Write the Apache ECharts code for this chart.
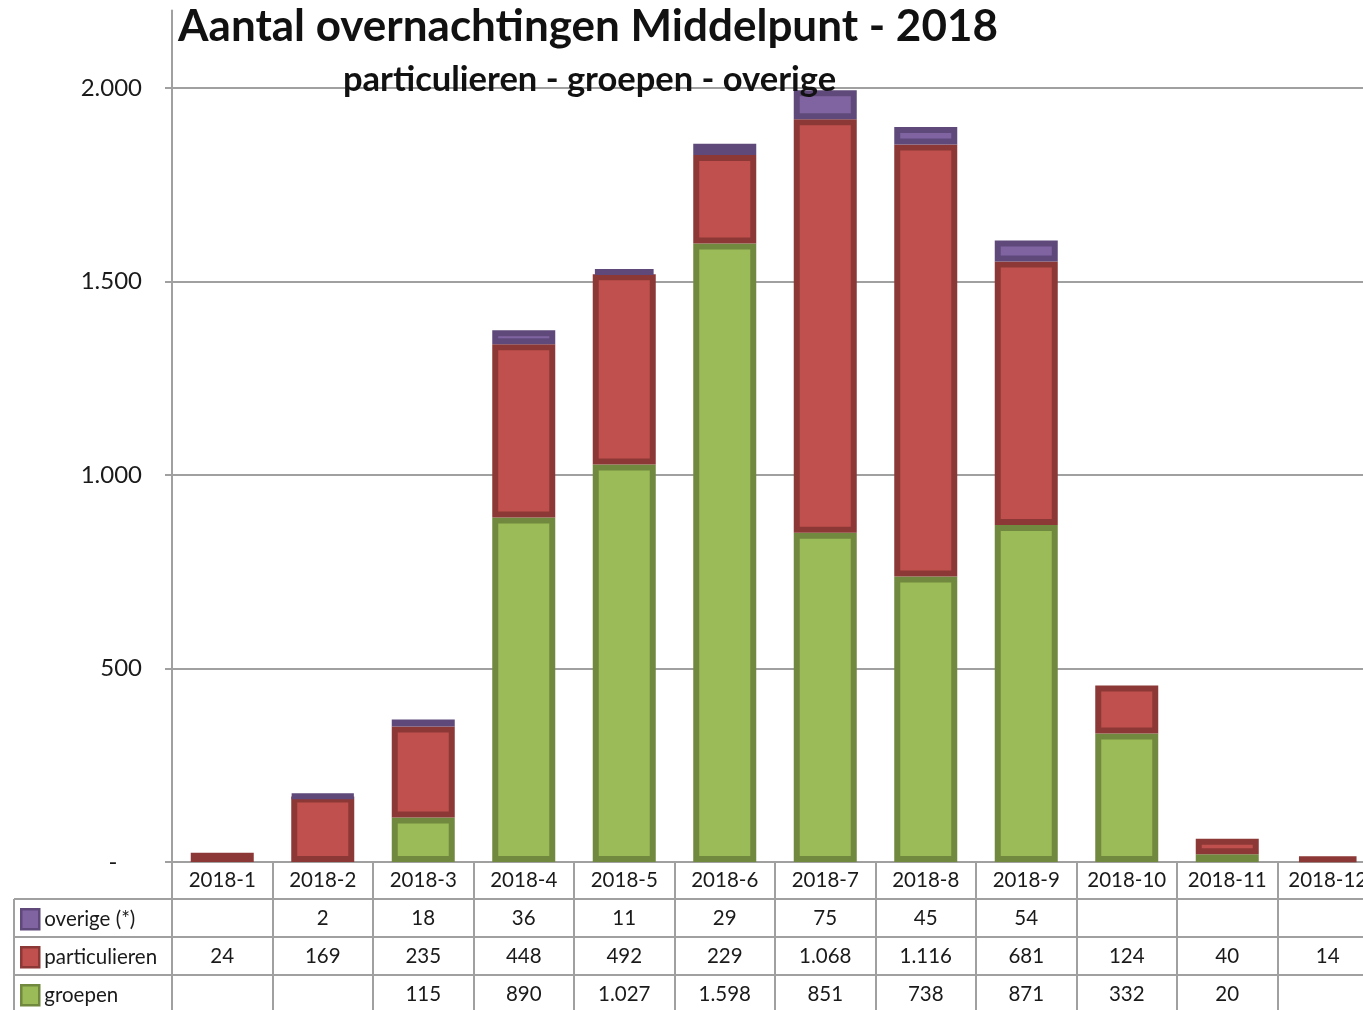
<!DOCTYPE html>
<html>
<head>
<meta charset="utf-8">
<script src="https://cdn.jsdelivr.net/npm/echarts@6/dist/echarts.min.js"></script>
<style>
  html, body { margin: 0; padding: 0; background: #fff; }
  #chart { width: 1363px; height: 1010px; }
</style>
</head>
<body>
<div id="chart"></div>
<script>
var months = ['2018-1', '2018-2', '2018-3', '2018-4', '2018-5', '2018-6', '2018-7', '2018-8', '2018-9', '2018-10', '2018-11', '2018-12']
var overige = [null, 2, 18, 36, 11, 29, 75, 45, 54, null, null, null]
var particulieren = [24, 169, 235, 448, 492, 229, 1068, 1116, 681, 124, 40, 14]
var groepen = [null, null, 115, 890, 1027, 1598, 851, 738, 871, 332, 20, null]
var yTicks = [0, 500, 1000, 1500, 2000]

// Dutch thousands separator
function fmt(n) {
  if (n === null || n === undefined) return ''
  return String(n).replace(/\B(?=(\d{3})+(?!\d))/g, '.')
}

var FONT = 'Lato'
var LINE = '#a0a0a0'
var TEXT = '#1a1a1a'

// one extra x-axis per table row
function tableAxis(values, offset) {
  return {
    type: 'category',
    data: months,
    position: 'bottom',
    offset: offset,
    axisLine: { show: true, lineStyle: { color: LINE, width: 2 } },
    axisTick: { show: false },
    axisLabel: {
      interval: 0,
      margin: 9,
      color: TEXT,
      fontFamily: FONT,
      fontSize: 20.5,
      formatter: function(v, i) {
        return fmt(values[i])
      }
    }
  }
}

// legend rows of the data table, one legend per row
function rowLegend(name, top) {
  return {
    orient: 'vertical',
    left: 20,
    top: top,
    padding: 0,
    itemWidth: 18,
    itemHeight: 20,
    itemGap: 4,
    icon: 'rect',
    data: [name],
    itemStyle: { borderWidth: 2.5 },
    textStyle: { fontFamily: FONT, fontSize: 20.5, color: TEXT }
  }
}

var chart = echarts.init(document.getElementById('chart'))
var option = {
  backgroundColor: '#fff',
  animation: false,
  title: [
    {
      text: 'Aantal overnachtingen Middelpunt - 2018',
      left: 178,
      top: 5,
      padding: 0,
      textStyle: { fontFamily: FONT, fontWeight: 'bold', fontSize: 44, color: '#111' }
    },
    {
      text: 'particulieren - groepen - overige',
      left: 343,
      top: 62,
      padding: 0,
      textStyle: { fontFamily: FONT, fontWeight: 'bold', fontSize: 34.5, color: '#111' }
    }
  ],
  legend: [
    rowLegend('overige (*)', 908),
    rowLegend('particulieren', 946),
    rowLegend('groepen', 984)
  ],
  graphic: [
    { type: 'line', shape: { x1: 14, y1: 899, x2: 172, y2: 899 }, style: { stroke: LINE, lineWidth: 2 } },
    { type: 'line', shape: { x1: 14, y1: 937, x2: 172, y2: 937 }, style: { stroke: LINE, lineWidth: 2 } },
    { type: 'line', shape: { x1: 14, y1: 975, x2: 172, y2: 975 }, style: { stroke: LINE, lineWidth: 2 } },
    { type: 'line', shape: { x1: 14, y1: 899, x2: 14, y2: 1010 }, style: { stroke: LINE, lineWidth: 2 } }
  ],
  grid: {
    left: 172,
    width: 1206,
    top: 10.6,
    bottom: 148,
    outerBoundsMode: 'none'
  },
  xAxis: [
    {
      type: 'category',
      data: months,
      position: 'bottom',
      axisLine: { show: true, lineStyle: { color: LINE, width: 2 } },
      axisTick: { show: true, interval: 0, length: 150, lineStyle: { color: LINE, width: 2 } },
      axisLabel: { interval: 0, margin: 8, color: TEXT, fontFamily: FONT, fontSize: 20.5 }
    },
    tableAxis(overige, 37),
    tableAxis(particulieren, 75),
    tableAxis(groepen, 113)
  ],
  yAxis: {
    type: 'value',
    min: 0,
    max: 2200,
    interval: 500,
    axisLine: { show: true, lineStyle: { color: LINE, width: 2 } },
    axisTick: { show: true, length: 7, lineStyle: { color: LINE, width: 2 } },
    splitLine: { show: true, showMaxLine: false, lineStyle: { color: LINE, width: 2 } },
    axisLabel: {
      margin: 30,
      showMaxLabel: false,
      color: TEXT,
      fontFamily: FONT,
      fontSize: 24,
      formatter: function(v) {
        if (v === 0) return '-    '
        if (yTicks.indexOf(v) < 0) return ''
        return fmt(v)
      }
    }
  },
  series: [
    {
      name: 'groepen',
      type: 'bar',
      stack: 'totaal',
      barWidth: 63,
      data: groepen,
      itemStyle: { color: '#9BBB59', borderColor: '#71893F', borderWidth: 6 }
    },
    {
      name: 'particulieren',
      type: 'bar',
      stack: 'totaal',
      barWidth: 63,
      data: particulieren,
      itemStyle: { color: '#C0504D', borderColor: '#8C3836', borderWidth: 6 }
    },
    {
      name: 'overige (*)',
      type: 'bar',
      stack: 'totaal',
      barWidth: 63,
      data: overige,
      itemStyle: { color: '#8064A2', borderColor: '#5F497A', borderWidth: 6 }
    }
  ]
}
chart.setOption(option)
</script>
</body>
</html>
